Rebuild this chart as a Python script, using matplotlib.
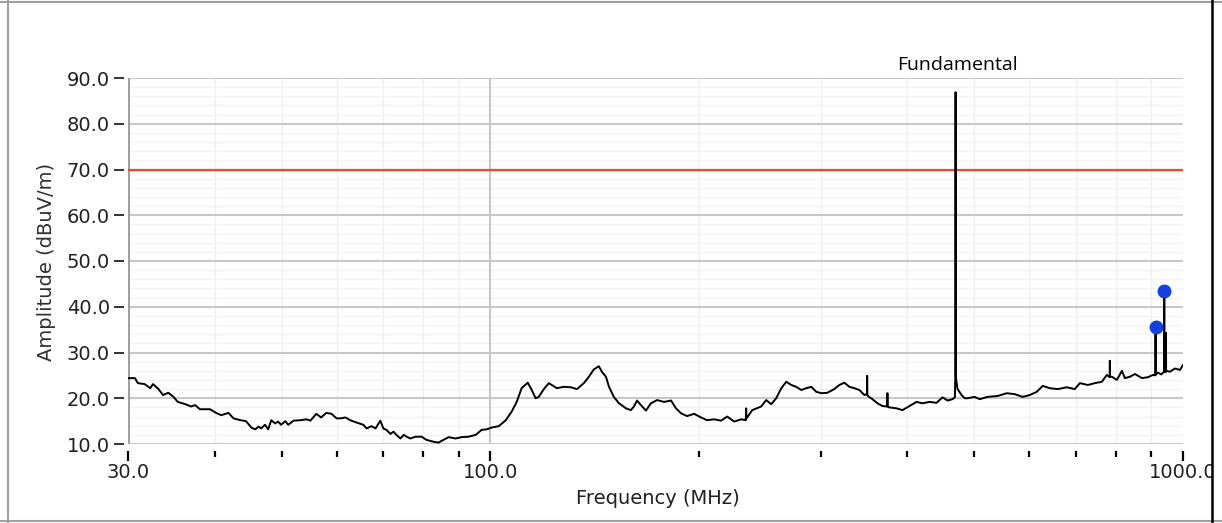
import matplotlib
matplotlib.use("Agg")
import matplotlib.pyplot as plt
from matplotlib.lines import Line2D
from matplotlib.patches import Rectangle

# emission scan (MHz, dBuV/m)
freq_mhz = [
    30.0, 30.7, 31.0, 31.7, 32.3, 32.6, 33.2, 33.7, 34.3, 34.9, 35.4, 36.3,
    37.0, 37.5, 38.1, 39.4, 40.2, 40.9, 41.9, 42.6, 43.6, 44.4, 45.2, 45.8,
    46.3, 46.7, 47.3, 47.8, 48.3, 48.9, 49.4, 49.9, 50.6, 51.1, 52.0, 53.2,
    54.3, 55.0, 56.1, 57.0, 58.0, 59.0, 60.0, 60.8, 61.8, 62.8, 64.1, 65.6,
    66.3, 67.4, 68.3, 69.4, 70.1, 70.8, 71.8, 72.5, 73.2, 74.2, 75.0, 75.7,
    76.7, 78.0, 79.6, 80.9, 82.8, 84.2, 85.6, 87.1, 89.1, 90.9, 93.1, 95.3,
    97.2, 98.8, 100.5, 102.9, 105.3, 107.4, 109.2, 111.0, 113.3, 114.8, 116.3,
    117.5, 119.5, 121.5, 124.8, 127.7, 130.7, 133.4, 136.5, 138.8, 141.1,
    143.5, 144.9, 146.9, 148.4, 150.8, 153.4, 157.0, 159.6, 161.2, 162.9,
    165.0, 167.8, 170.6, 174.1, 178.2, 182.4, 185.4, 188.6, 192.4, 196.9,
    201.5, 205.6, 210.5, 215.4, 219.8, 225.0, 230.3, 233.8, 234.1, 234.4,
    238.9, 246.1, 250.2, 254.5, 258.7, 263.1, 267.5, 272.0, 276.5, 281.2,
    285.9, 290.7, 295.6, 300.5, 306.6, 313.8, 319.1, 324.5, 329.9, 335.5,
    341.1, 346.8, 349.7, 350.0, 350.3, 351.5, 356.2, 362.2, 368.2, 374.1,
    374.4, 374.7, 376.9, 385.8, 393.6, 402.9, 412.4, 420.7, 430.6, 440.8,
    449.7, 457.2, 464.9, 468.5, 469.3, 469.6, 469.9, 471.0, 472.7, 479.1,
    484.0, 488.7, 500.2, 508.7, 522.4, 540.1, 556.5, 571.5, 587.0, 600.8,
    615.0, 627.4, 642.2, 659.5, 679.6, 697.9, 709.7, 728.8, 746.0, 763.6,
    776.4, 783.8, 784.2, 784.6, 789.4, 802.7, 816.2, 824.4, 838.2, 852.3,
    872.4, 890.0, 904.9, 912.4, 912.8, 913.2, 920.1, 930.0, 939.2, 939.6,
    940.0, 944.6, 945.0, 945.4, 957.6, 973.7, 990.1, 1000.0,
]
amp_dbuv = [
    24.4, 24.4, 23.3, 23.1, 22.2, 23.1, 22.0, 20.7, 21.2, 20.3, 19.2, 18.7,
    18.2, 18.5, 17.6, 17.6, 16.8, 16.3, 16.8, 15.6, 15.2, 15.0, 13.6, 13.2,
    13.8, 13.4, 14.2, 13.2, 15.2, 14.5, 14.9, 14.2, 15.0, 14.2, 15.1, 15.2,
    15.4, 15.1, 16.6, 15.8, 16.8, 16.6, 15.6, 15.6, 15.8, 15.2, 14.7, 14.2,
    13.4, 13.9, 13.4, 15.1, 13.4, 13.1, 12.2, 12.7, 12.0, 11.2, 12.0, 11.6,
    11.2, 11.6, 11.6, 10.9, 10.5, 10.3, 10.9, 11.5, 11.2, 11.5, 11.6, 12.0,
    13.1, 13.2, 13.6, 13.9, 15.2, 17.1, 19.2, 22.2, 23.4, 21.8, 20.0,
    20.3, 22.0, 23.3, 22.2, 22.5, 22.4, 22.0, 23.3, 24.7, 26.3,
    27.0, 25.8, 24.7, 22.5, 20.3, 18.9, 17.8, 17.4, 18.2, 19.5,
    18.5, 17.3, 18.9, 19.6, 19.2, 19.5, 17.8, 16.7, 16.1, 16.6,
    15.8, 15.2, 15.4, 15.1, 16.0, 14.9, 15.4, 15.2, 17.8, 15.6,
    17.4, 18.2, 19.6, 18.7, 20.0, 22.2, 23.6, 22.9, 22.5, 21.8,
    22.2, 22.5, 21.4, 21.1, 21.2, 22.0, 22.9, 23.4, 22.5, 22.2,
    21.8, 20.7, 20.9, 24.9, 20.7, 20.4, 19.8, 18.9, 18.3, 18.2,
    21.1, 18.2, 18.0, 17.8, 17.4, 18.3, 19.2, 18.9, 19.2, 19.0,
    20.2, 19.5, 19.8, 20.2, 25.8, 86.9, 25.0, 23.6, 22.0, 20.7,
    20.0, 20.0, 20.3, 19.8, 20.3, 20.5, 21.1, 20.9, 20.3, 20.7,
    21.4, 22.7, 22.2, 22.0, 22.4, 22.0, 23.3, 22.9, 23.3, 23.6,
    25.1, 24.6, 28.2, 24.7, 24.7, 24.0, 26.0, 24.4, 24.7, 25.3,
    24.4, 24.6, 25.1, 25.0, 35.5, 25.2, 25.6, 25.2, 25.8, 43.4,
    26.0, 25.7, 34.3, 26.0, 25.8, 26.5, 26.2, 27.3,
]

limit_dbuv = 70.0
marker_freqs = [912.8, 939.6]
marker_amps = [35.5, 43.4]

fundamental_freq = 472.0
x_major = [30, 100, 1000]
x_major_labels = ["30.0", "100.0", "1000.0"]
x_minor = [40, 50, 60, 70, 80, 90, 200, 300, 400, 500, 600, 700, 800, 900]
y_major = list(range(10, 91, 10))
y_minor = [v for v in range(10, 91, 2) if v % 10]

fig = plt.figure(figsize=(12.22, 5.23), dpi=100)
ax = fig.add_axes((128 / 1222, 1 - 444 / 523, 1055 / 1222, 366 / 523))

ax.set_xscale("log")
ax.set_xlim(30, 1000)
ax.set_ylim(10, 90)

# grid
for v in y_minor:
    ax.axhline(v, color="#f3f3f3", lw=1, zorder=0)
for v in y_major:
    ax.axhline(v, color="#c8c8c8", lw=1.5, zorder=0.5)
for f in x_minor:
    ax.axvline(f, color="#f1f1f1", lw=1, zorder=0)
ax.axvline(100, color="#c8c8c8", lw=1.5, zorder=0.5)
ax.axvline(30, color="#a0a0a0", lw=2.2, zorder=1)

ax.axhline(limit_dbuv, color="#ff4030", lw=1.6, zorder=2)
ax.plot(freq_mhz, amp_dbuv, color="black", lw=1.4, zorder=3)
ax.plot(marker_freqs, marker_amps, "o", color="#1240e0", ms=9, zorder=4)

ax.annotate("Fundamental", (fundamental_freq, 90), xytext=(0, 3),
            textcoords="offset points", ha="center", va="bottom",
            fontsize=14, family="Open Sans", color="black")

for s in ax.spines.values():
    s.set_visible(False)
ax.spines["left"].set_position(("outward", 3))
ax.spines["bottom"].set_position(("outward", 5))

ax.set_yticks(y_major, [f"{v:.1f}" for v in y_major])
ax.set_xticks(x_major, x_major_labels)
ax.set_xticks(x_minor, minor=True)
ax.xaxis.set_minor_formatter(plt.NullFormatter())
ax.tick_params(axis="y", length=7, width=1.4, color="#333333", pad=3,
               labelsize=14, labelcolor="#202020")
ax.tick_params(axis="x", which="major", length=7, width=1.6, color="black",
               pad=2, labelsize=14, labelcolor="#202020")
ax.tick_params(axis="x", which="minor", length=4, width=1.6, color="black")
ax.set_facecolor("white")

fig.text(47 / 1222, 0.50, "Amplitude (dBuV/m)", rotation=90, ha="center",
         va="center", fontsize=14, color="#303030")
fig.text(658 / 1222, 1 - 498 / 523, "Frequency (MHz)", ha="center",
         va="center", fontsize=14, color="#202020")

# window frame
fig.add_artist(Rectangle((1213 / 1222, 0), 9 / 1222, 1, transform=fig.transFigure,
                         color="white", zorder=10))
fig.add_artist(Line2D([8 / 1222] * 2, [0, 1], color="#a0a0a0", lw=1.5, zorder=11))
fig.add_artist(Line2D([0, 1], [1 - 2 / 523] * 2, color="#a0a0a0", lw=1.5, zorder=11))
fig.add_artist(Line2D([0, 1], [2 / 523] * 2, color="#a0a0a0", lw=1.5, zorder=11))
fig.add_artist(Line2D([1212 / 1222] * 2, [0, 1], color="black", lw=1.8, zorder=11))

fig.savefig("out.png", dpi=100)
